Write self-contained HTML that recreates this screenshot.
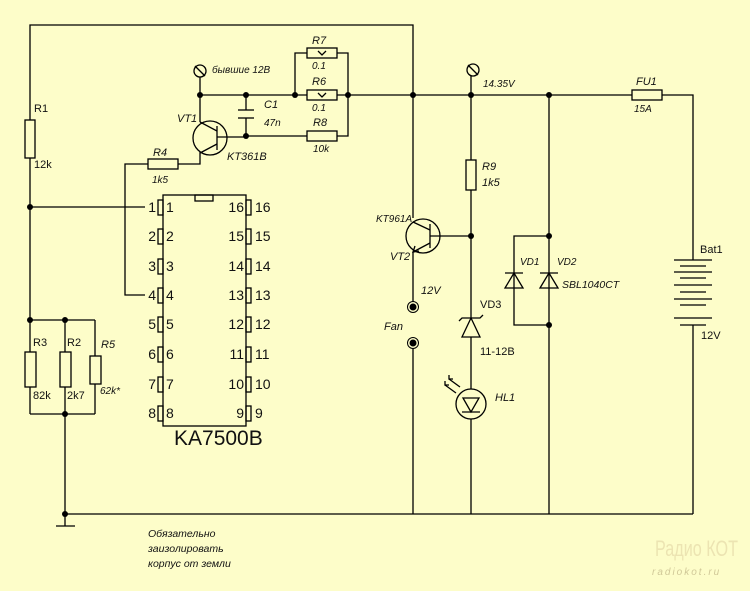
<!DOCTYPE html>
<html><head><meta charset="utf-8"><style>
html,body{margin:0;padding:0;background:#fdfdc9}
svg{display:block}
text{font-family:"Liberation Sans",sans-serif;fill:#111}
.i{font-style:italic}
</style></head><body>
<svg width="750" height="591" viewBox="0 0 750 591" xmlns="http://www.w3.org/2000/svg">
<rect width="750" height="591" fill="#fdfdc9"/>
<g stroke="#000" stroke-width="1.3" fill="none">
<polyline points="30,120 30,25 413,25 413,218"/>
<line x1="30" y1="158" x2="30" y2="320"/>
<rect x="25" y="120" width="10" height="38"/>
<line x1="30" y1="207" x2="145" y2="207"/>
<line x1="30" y1="320" x2="95" y2="320"/>
<line x1="95" y1="320" x2="95" y2="356"/>
<line x1="30" y1="320" x2="30" y2="352"/><rect x="25" y="352" width="11" height="35"/>
<line x1="65" y1="320" x2="65" y2="352"/><rect x="60" y="352" width="11" height="35"/>
<rect x="90" y="356" width="11" height="28"/>
<line x1="30" y1="387" x2="30" y2="414"/><line x1="65" y1="387" x2="65" y2="526"/>
<line x1="95" y1="384" x2="95" y2="414"/>
<line x1="30" y1="414" x2="95" y2="414"/>
<line x1="56" y1="526" x2="75" y2="526"/>
<line x1="65" y1="514" x2="693" y2="514"/>
<rect x="163" y="195" width="83" height="231"/>
<rect x="195" y="195" width="18" height="6"/>
<g>
<rect x="158" y="200" width="5" height="15"/><rect x="158" y="229" width="5" height="15"/>
<rect x="158" y="259" width="5" height="15"/><rect x="158" y="288" width="5" height="15"/>
<rect x="158" y="317" width="5" height="15"/><rect x="158" y="347" width="5" height="15"/>
<rect x="158" y="377" width="5" height="15"/><rect x="158" y="406" width="5" height="15"/>
<rect x="246" y="200" width="5" height="15"/><rect x="246" y="229" width="5" height="15"/>
<rect x="246" y="259" width="5" height="15"/><rect x="246" y="288" width="5" height="15"/>
<rect x="246" y="317" width="5" height="15"/><rect x="246" y="347" width="5" height="15"/>
<rect x="246" y="377" width="5" height="15"/><rect x="246" y="406" width="5" height="15"/>
</g>
<polyline points="145,295 125,295 125,164 148,164"/>
<rect x="148" y="159" width="30" height="10"/>
<polyline points="178,164 200,164 200,152"/>
<circle cx="210" cy="138" r="17"/>
<line x1="217" y1="126" x2="217" y2="150"/>
<line x1="217" y1="137" x2="246" y2="137"/>
<line x1="217" y1="131" x2="200" y2="122"/><line x1="200" y1="122" x2="200" y2="95"/>
<line x1="217" y1="144" x2="200" y2="153"/>
<line x1="200" y1="95" x2="200" y2="77"/>
<circle cx="200" cy="71" r="6"/><line x1="195" y1="66" x2="205" y2="76"/>
<line x1="200" y1="95" x2="307" y2="95"/>
<line x1="337" y1="95" x2="632" y2="95"/>
<rect x="307" y="90" width="30" height="10"/>
<polyline points="295,95 295,53 307,53"/><rect x="307" y="48" width="30" height="10"/>
<polyline points="337,53 348,53 348,136 337,136"/>
<rect x="307" y="131" width="30" height="10"/>
<line x1="246" y1="136" x2="307" y2="136"/>
<line x1="246" y1="95" x2="246" y2="110"/><line x1="246" y1="118" x2="246" y2="136"/>
<line x1="238" y1="110" x2="254" y2="110"/><line x1="238" y1="118" x2="254" y2="118"/>
<polyline points="318,51 322,55 326,51"/><polyline points="318,93 322,97 326,93"/>
<rect x="632" y="90" width="30" height="10"/>
<polyline points="662,95 693,95 693,260"/>
<line x1="693" y1="325" x2="693" y2="514"/>
<line x1="674" y1="260" x2="712" y2="260"/><line x1="680" y1="266" x2="706" y2="266"/>
<line x1="674" y1="272" x2="712" y2="272"/><line x1="680" y1="278" x2="706" y2="278"/>
<line x1="674" y1="285" x2="712" y2="285"/><line x1="680" y1="292" x2="706" y2="292"/>
<line x1="674" y1="299" x2="712" y2="299"/><line x1="680" y1="305" x2="706" y2="305"/>
<line x1="674" y1="318" x2="712" y2="318"/><line x1="680" y1="325" x2="706" y2="325"/>
<line x1="471" y1="76" x2="471" y2="160"/>
<circle cx="473" cy="70" r="6"/><line x1="468" y1="65" x2="478" y2="75"/>
<rect x="466" y="160" width="10" height="30"/>
<line x1="471" y1="190" x2="471" y2="318"/>
<line x1="471" y1="236" x2="430" y2="236"/>
<circle cx="423" cy="236" r="17"/>
<line x1="430" y1="224" x2="430" y2="248"/>
<line x1="430" y1="230" x2="413" y2="222"/>
<line x1="430" y1="243" x2="413" y2="252"/>
<line x1="413" y1="252" x2="413" y2="302"/>
<polyline points="415,246 413,252 419,251"/>
<line x1="413" y1="348" x2="413" y2="514"/>
<polygon points="471,318 462,337 480,337"/>
<polyline points="459,321 462,318 480,318 483,315"/>
<line x1="471" y1="337" x2="471" y2="389"/>
<circle cx="471" cy="404" r="15"/>
<polygon points="471,412 463,398 479,398"/><line x1="462" y1="412" x2="480" y2="412"/>
<line x1="471" y1="419" x2="471" y2="514"/>
<line x1="445" y1="385" x2="456" y2="393"/><line x1="449" y1="379" x2="460" y2="387"/>
<polyline points="445,381 445,385 449,385"/><polyline points="449,375 449,379 453,379"/>
<line x1="549" y1="95" x2="549" y2="514"/>
<polyline points="549,236 514,236 514,325 549,325"/>
<polygon points="514,273 505,288 523,288"/><line x1="505" y1="273" x2="523" y2="273"/>
<polygon points="549,273 540,288 558,288"/><line x1="540" y1="273" x2="558" y2="273"/>
</g>
<g fill="#000">
<circle cx="413" cy="307" r="3.5"/><circle cx="413" cy="343" r="3.5"/>
</g>
<g stroke="#000" fill="none"><circle cx="413" cy="307" r="5.5"/><circle cx="413" cy="343" r="5.5"/></g>
<g fill="#000">
<circle cx="30" cy="207" r="3"/><circle cx="30" cy="320" r="3"/><circle cx="65" cy="320" r="3"/>
<circle cx="65" cy="414" r="3"/><circle cx="65" cy="514" r="3"/>
<circle cx="200" cy="95" r="3"/><circle cx="246" cy="95" r="3"/><circle cx="295" cy="95" r="3"/>
<circle cx="348" cy="95" r="3"/><circle cx="413" cy="95" r="3"/><circle cx="471" cy="95" r="3"/>
<circle cx="549" cy="95" r="3"/><circle cx="246" cy="136" r="3"/><circle cx="471" cy="236" r="3"/>
<circle cx="549" cy="236" r="3"/><circle cx="549" cy="325" r="3"/>
</g>
<g font-size="11">
<text x="34" y="112">R1</text><text x="34" y="168">12k</text>
<text x="33" y="346">R3</text><text x="67" y="346">R2</text><text class="i" x="101" y="348">R5</text>
<text x="33" y="399">82k</text><text x="67" y="399">2k7</text><text class="i" x="100" y="394" font-size="10">62k*</text>
<text class="i" x="153" y="156">R4</text><text class="i" x="152" y="183" font-size="10">1k5</text>
<text class="i" x="177" y="122">VT1</text><text class="i" x="227" y="160">KT361B</text>
<text class="i" x="264" y="108">C1</text><text class="i" x="264" y="126" font-size="10">47n</text>
<text class="i" x="312" y="44">R7</text><text class="i" x="312" y="69" font-size="10">0.1</text>
<text class="i" x="312" y="85">R6</text><text class="i" x="312" y="111" font-size="10">0.1</text>
<text class="i" x="313" y="126">R8</text><text class="i" x="313" y="152" font-size="10">10k</text>
<text class="i" x="212" y="73" font-size="10">бывшие 12В</text>
<text class="i" x="483" y="87" font-size="10">14.35V</text>
<text class="i" x="636" y="85">FU1</text><text class="i" x="634" y="112" font-size="10">15A</text>
<text class="i" x="482" y="170">R9</text><text class="i" x="482" y="186">1k5</text>
<text class="i" x="376" y="222" font-size="10">KT961A</text><text class="i" x="390" y="260">VT2</text>
<text class="i" x="421" y="294">12V</text><text class="i" x="384" y="330">Fan</text>
<text x="480" y="308">VD3</text><text x="480" y="355">11-12B</text>
<text class="i" x="495" y="401">HL1</text>
<text class="i" x="520" y="265" font-size="10">VD1</text><text class="i" x="557" y="265" font-size="10">VD2</text>
<text class="i" x="562" y="288" font-size="10.5">SBL1040CT</text>
<text x="700" y="253">Bat1</text><text x="701" y="339">12V</text>
</g>
<g font-size="14">
<g text-anchor="end">
<text x="156" y="212">1</text><text x="156" y="241">2</text><text x="156" y="271">3</text><text x="156" y="300">4</text>
<text x="156" y="329">5</text><text x="156" y="359">6</text><text x="156" y="389">7</text><text x="156" y="418">8</text>
<text x="244" y="212">16</text><text x="244" y="241">15</text><text x="244" y="271">14</text><text x="244" y="300">13</text>
<text x="244" y="329">12</text><text x="244" y="359">11</text><text x="244" y="389">10</text><text x="244" y="418">9</text>
</g>
<text x="166" y="212">1</text><text x="166" y="241">2</text><text x="166" y="271">3</text><text x="166" y="300">4</text>
<text x="166" y="329">5</text><text x="166" y="359">6</text><text x="166" y="389">7</text><text x="166" y="418">8</text>
<text x="255" y="212">16</text><text x="255" y="241">15</text><text x="255" y="271">14</text><text x="255" y="300">13</text>
<text x="255" y="329">12</text><text x="255" y="359">11</text><text x="255" y="389">10</text><text x="255" y="418">9</text>
</g>
<text x="174" y="445" font-size="21">KA7500B</text>
<g class="i" font-size="10.5" font-style="italic">
<text x="148" y="537">Обязательно</text><text x="148" y="552">заизолировать</text><text x="148" y="567">корпус от земли</text>
</g>
<text x="655" y="556" font-size="22" textLength="83" lengthAdjust="spacingAndGlyphs" style="fill:#ece4b2">Радио КОТ</text>
<text x="652" y="575" font-size="10" font-style="italic" style="fill:#d0c898" letter-spacing="2">radiokot.ru</text>
</svg>
</body></html>
